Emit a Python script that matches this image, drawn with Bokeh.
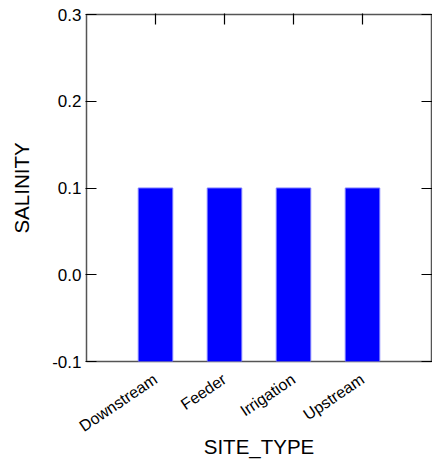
import math
from bokeh.plotting import figure
from bokeh.models import Range1d, FixedTicker, ColumnDataSource, LinearAxis
from bokeh.embed import file_html
from bokeh.resources import INLINE

site_types = ["Downstream", "Feeder", "Irrigation", "Upstream"]
salinity = [0.1, 0.1, 0.1, 0.1]
y_ticks = [-0.1, 0.0, 0.1, 0.2, 0.3]
y_tick_labels = ["-0.1", "0.0", "0.1", "0.2", "0.3"]

FONT = "Liberation Sans"

n = len(site_types)
xs = list(range(1, n + 1))
x_lo, x_hi = 0, n + 1
y_lo, y_hi = y_ticks[0], y_ticks[-1]

src = ColumnDataSource(dict(x=xs, top=salinity))

p = figure(x_range=Range1d(x_lo, x_hi), y_range=Range1d(y_lo, y_hi),
           frame_width=345, frame_height=347,
           output_backend="svg", toolbar_location=None,
           x_axis_label="SITE_TYPE", y_axis_label="SALINITY",
           min_border_left=0, min_border_top=14, min_border_right=0,
           min_border_bottom=0)
p.margin = (0, 0, 0, 7)
p.background_fill_color = "white"
p.border_fill_color = "white"
p.grid.visible = False
p.outline_line_color = "#555555"
p.outline_line_width = 1.5

p.vbar(x="x", top="top", bottom=y_lo, width=0.5, source=src,
       fill_color="#0000ff", line_color="#7777ff", line_width=1)

tick_kw = dict(axis_line_color=None, major_tick_in=10, major_tick_out=1,
               minor_tick_in=0, minor_tick_out=0,
               major_tick_line_color="black", major_tick_line_width=1.2)

ya = p.yaxis[0]
ya.ticker = FixedTicker(ticks=y_ticks)
ya.major_label_overrides = dict(zip(y_ticks, y_tick_labels))
for k, v in tick_kw.items():
    setattr(ya, k, v)
ya.major_label_text_font = FONT
ya.major_label_text_font_size = "17px"
ya.major_label_text_color = "black"
ya.major_label_standoff = 4
ya.axis_label_text_font = FONT
ya.axis_label_text_font_size = "20.5px"
ya.axis_label_text_font_style = "normal"
ya.axis_label_text_color = "black"
ya.axis_label_standoff = 16

xa = p.xaxis[0]
xa.ticker = FixedTicker(ticks=xs)
xa.major_label_overrides = dict(zip(xs, site_types))
xa.axis_line_color = None
xa.major_tick_in = 0
xa.major_tick_out = 0
xa.minor_tick_in = 0
xa.minor_tick_out = 0
xa.major_label_orientation = math.radians(34)
xa.major_label_text_font = FONT
xa.major_label_text_font_size = "16px"
xa.major_label_text_color = "black"
xa.major_label_standoff = 16
xa.axis_label_text_font = FONT
xa.axis_label_text_font_size = "20.5px"
xa.axis_label_text_font_style = "normal"
xa.axis_label_text_color = "black"
xa.axis_label_standoff = -10

ra = LinearAxis(ticker=FixedTicker(ticks=y_ticks),
                major_label_overrides={t: "" for t in y_ticks},
                major_label_standoff=0, **tick_kw)
p.add_layout(ra, "right")

ta = LinearAxis(ticker=FixedTicker(ticks=xs),
                major_label_overrides={t: "" for t in xs},
                major_label_standoff=0, **tick_kw)
p.add_layout(ta, "above")

open("out.html", "w").write(file_html(p, INLINE))
